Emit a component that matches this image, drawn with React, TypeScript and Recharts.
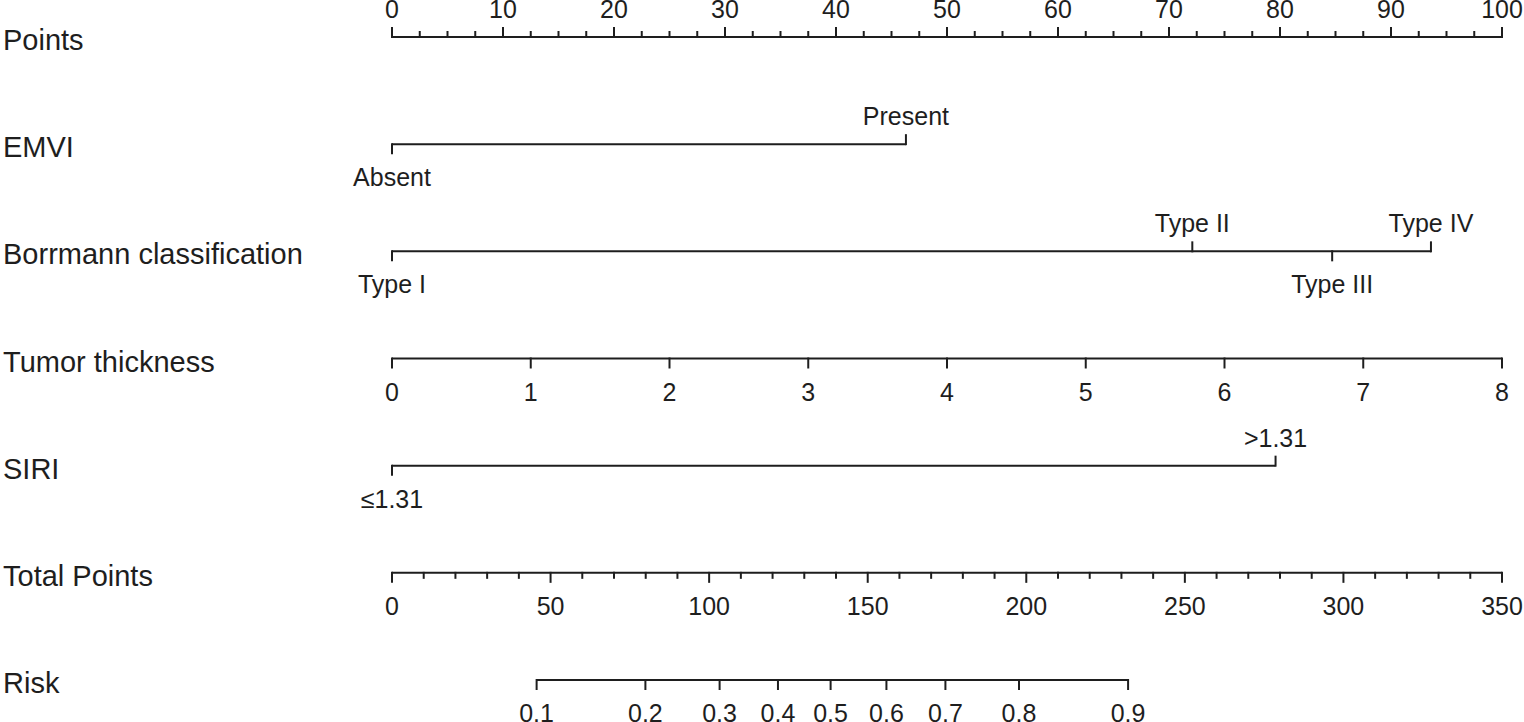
import React from 'react';
import { ComposedChart, XAxis, YAxis, Scatter } from 'recharts';

// ---------- data ----------
const ROW_NAMES = ['Points', 'EMVI', 'Borrmann classification', 'Tumor thickness', 'SIRI', 'Total Points', 'Risk'];

const POINTS_TICKS = [0, 10, 20, 30, 40, 50, 60, 70, 80, 90, 100];
const POINTS_MINOR_STEP = 2.5;

const EMVI_LEVELS = ['Absent', 'Present'];
const EMVI_POINTS = [0, 46.3];

const BORRMANN_LEVELS = ['Type I', 'Type II', 'Type III', 'Type IV'];
const BORRMANN_POINTS = [0, 72.1, 84.7, 93.6];

const THICKNESS_TICKS = [0, 1, 2, 3, 4, 5, 6, 7, 8];

const SIRI_LEVELS = ['\u22641.31', '>1.31'];
const SIRI_POINTS = [0, 79.6];

const TOTAL_TICKS = [0, 50, 100, 150, 200, 250, 300, 350];
const TOTAL_MINOR_STEP = 10;

const RISK_TICKS = [0.1, 0.2, 0.3, 0.4, 0.5, 0.6, 0.7, 0.8, 0.9];
const RISK_TOTAL_POINTS = [45.6, 79.9, 103.3, 121.7, 138.3, 155.9, 174.5, 197.7, 232.1];

// ---------- style ----------
const INK = '#1e1e1e';
const FONT = '"Liberation Sans", Arial, Helvetica, sans-serif';
const MAJOR = 9;
const MINOR = 5;
const ABOVE = -19;
const BELOW = 42;

type Mark = { x: number; y: number; label: string | null; dir: number; len: number };

function numericRow(row: number, ticks: number[], minorStep: number | null, dir: number): Mark[] {
  const marks: Mark[] = ticks.map((t) => ({ x: t, y: row, label: String(t), dir, len: MAJOR }));
  if (minorStep) {
    const lo = ticks[0];
    const hi = ticks[ticks.length - 1];
    for (let v = lo; v <= hi + 1e-9; v += minorStep) {
      const r = Math.round(v * 1000) / 1000;
      if (!ticks.some((t) => Math.abs(t - r) < 1e-6)) marks.push({ x: r, y: row, label: null, dir, len: MINOR });
    }
  }
  return marks.sort((a, b) => a.x - b.x);
}

function categoricalRow(row: number, levels: string[], pts: number[]): Mark[] {
  return levels
    .map((l, i) => ({ x: pts[i], y: row, label: l, dir: i % 2 === 0 ? 1 : -1, len: MAJOR }))
    .sort((a, b) => a.x - b.x);
}

const pointsRow = numericRow(0, POINTS_TICKS, POINTS_MINOR_STEP, -1);
const emviRow = categoricalRow(1, EMVI_LEVELS, EMVI_POINTS);
const borrRow = categoricalRow(2, BORRMANN_LEVELS, BORRMANN_POINTS);
const thickRow = numericRow(3, THICKNESS_TICKS, null, 1);
const siriRow = categoricalRow(4, SIRI_LEVELS, SIRI_POINTS);
const totalRow = numericRow(5, TOTAL_TICKS, TOTAL_MINOR_STEP, 1);
const riskRow: Mark[] = RISK_TICKS.map((r, i) => ({ x: RISK_TOTAL_POINTS[i], y: 6, label: String(r), dir: 1, len: MAJOR }));

const TickMark = (props: any) => {
  const { cx, cy, payload } = props;
  if (cx == null || cy == null || !payload) return null;
  const d = payload.dir;
  return (
    <g>
      <line x1={cx} y1={cy} x2={cx} y2={cy + d * payload.len} stroke={INK} strokeWidth={2} strokeLinecap="square" />
      {payload.label != null && (
        <text x={cx} y={d < 0 ? cy + ABOVE : cy + BELOW} textAnchor="middle" fontSize={25} fill={INK} fontFamily={FONT}>
          {payload.label}
        </text>
      )}
    </g>
  );
};

const RowTick = (props: any) => {
  const { y, payload } = props;
  return (
    <text x={3} y={y + 13} textAnchor="start" fontSize={29} fill={INK} fontFamily={FONT}>
      {ROW_NAMES[payload.value]}
    </text>
  );
};

const lineStyle = { stroke: INK, strokeWidth: 2 };

export default function App() {
  return (
    <div style={{ position: 'absolute', left: 0, top: 0, background: '#fff' }}>
      <ComposedChart width={1524} height={722} margin={{ top: 37, right: 22, bottom: 42, left: 0 }}>
        <XAxis xAxisId="pts" type="number" dataKey="x" domain={[0, 100]} hide />
        <XAxis xAxisId="thk" type="number" dataKey="x" domain={[0, 8]} hide />
        <XAxis xAxisId="tot" type="number" dataKey="x" domain={[0, 350]} hide />
        <YAxis
          type="number"
          dataKey="y"
          domain={[0, 6]}
          reversed
          ticks={[0, 1, 2, 3, 4, 5, 6]}
          interval={0}
          width={392}
          axisLine={false}
          tickLine={false}
          tick={<RowTick />}
        />
        <Scatter xAxisId="pts" data={pointsRow} shape={TickMark} line={lineStyle} isAnimationActive={false} />
        <Scatter xAxisId="pts" data={emviRow} shape={TickMark} line={lineStyle} isAnimationActive={false} />
        <Scatter xAxisId="pts" data={borrRow} shape={TickMark} line={lineStyle} isAnimationActive={false} />
        <Scatter xAxisId="thk" data={thickRow} shape={TickMark} line={lineStyle} isAnimationActive={false} />
        <Scatter xAxisId="pts" data={siriRow} shape={TickMark} line={lineStyle} isAnimationActive={false} />
        <Scatter xAxisId="tot" data={totalRow} shape={TickMark} line={lineStyle} isAnimationActive={false} />
        <Scatter xAxisId="tot" data={riskRow} shape={TickMark} line={lineStyle} isAnimationActive={false} />
      </ComposedChart>
    </div>
  );
}
